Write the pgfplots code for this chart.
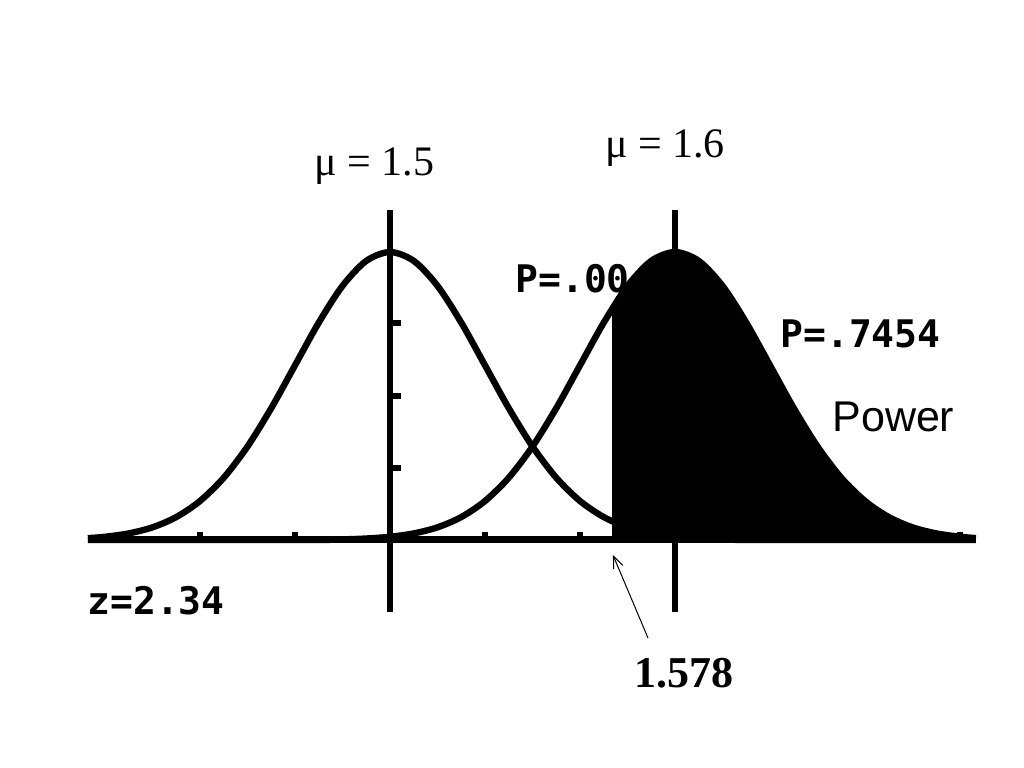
\documentclass[border=0pt]{standalone}
\usepackage{fontspec}
\setmainfont{Liberation Serif}
\newfontfamily\arialfont{Liberation Sans}
\newfontfamily\calcfont{DejaVu Sans Mono}
\usepackage{pgfplots}
\pgfplotsset{compat=1.18}
\usetikzlibrary{arrows.meta}

% density of the sampling distribution (sigma = 1/30)
\pgfplotstableread{
x        y
1.394    0.076
1.4      0.133
1.408333 0.273
1.416667 0.526
1.425    0.952
1.433333 1.620
1.441667 2.588
1.45     3.885
1.458333 5.479
1.466667 7.259
1.475    9.034
1.483333 10.562
1.491667 11.600
1.5      11.968
1.508333 11.600
1.516667 10.562
1.525    9.034
1.533333 7.259
1.541667 5.479
1.55     3.885
1.558333 2.588
1.566667 1.620
1.575    0.952
1.583333 0.526
1.591667 0.273
1.6      0.133
1.608333 0.061
1.616667 0.026
1.63     0.0
1.7056   0.0
}\nullcurve
\pgfplotstableread{
x        y
1.394    0.0
1.47     0.0
1.483333 0.026
1.491667 0.061
1.5      0.133
1.508333 0.273
1.516667 0.526
1.525    0.952
1.533333 1.620
1.541667 2.588
1.55     3.885
1.558333 5.479
1.566667 7.259
1.575    9.034
1.583333 10.562
1.591667 11.600
1.6      11.968
1.608333 11.600
1.616667 10.562
1.625    9.034
1.633333 7.259
1.641667 5.479
1.65     3.885
1.658333 2.588
1.666667 1.620
1.675    0.952
1.683333 0.526
1.691667 0.273
1.7      0.133
1.7056   0.08
}\altcurve
\pgfplotstableread{
x        y
1.578    9.626
1.583333 10.562
1.591667 11.600
1.6      11.968
1.608333 11.600
1.616667 10.562
1.625    9.034
1.633333 7.259
1.641667 5.479
1.65     3.885
1.658333 2.588
1.666667 1.620
1.675    0.952
1.683333 0.526
1.691667 0.273
1.7      0.133
1.7056   0.08
}\powerarea

\begin{document}
\begin{tikzpicture}
\begin{axis}[
    at={(0,0)}, anchor=south west,
    scale only axis,
    width=512pt, height=384pt,
    xmin=1.363158, xmax=1.722456,
    ymin=-9.476, ymax=22.444,
    hide axis, clip=false,
]
\path (rel axis cs:0,0) rectangle (rel axis cs:1,1);

% calculator readouts
\node[anchor=base west, inner sep=0pt, font=\calcfont\bfseries\fontsize{19}{22}\selectfont]
    at (rel axis cs:0.5029,0.6185) {P=.00};
\node[anchor=base west, inner sep=0pt, font=\calcfont\bfseries\fontsize{19}{22}\selectfont]
    at (rel axis cs:0.7617,0.5469) {P=.7454};
\node[anchor=base west, inner sep=0pt, font=\calcfont\bfseries\fontsize{19}{22}\selectfont]
    at (rel axis cs:0.0850,0.1992) {z=2.34};

% shaded power region
\addplot[fill=black, draw=none] table[x=x, y=y] {\powerarea} |- (axis cs:1.578,0) -- cycle;
\addplot[fill=black, draw=none] coordinates {(1.578,0) (1.578,9.626) (1.59,9.626) (1.59,0)};

% axes
\addplot[black, line width=3.5pt] coordinates {(1.3945,0) (1.7055,0)};
\addplot[black, line width=3.3pt] coordinates {(1.5,-2.99) (1.5,13.72)};
\addplot[black, line width=3.3pt] coordinates {(1.6,-2.99) (1.6,13.72)};
\foreach \t in {1.433333,1.466667,1.533333,1.566667,1.633333,1.666667,1.7}{
  \edef\temp{\noexpand\draw[line width=3pt] (axis cs:\t,0) -- (axis cs:\t,0.35);}\temp
}
\foreach \t in {3,6,9}{
  \edef\temp{\noexpand\draw[line width=3pt] (axis cs:1.5,\t) -- (axis cs:1.5038,\t);}\temp
}

% the two curves
\addplot[black, line width=3.2pt, smooth] table[x=x, y=y] {\nullcurve};
\addplot[black, line width=3.2pt, smooth] table[x=x, y=y] {\altcurve};

% annotations
\node[anchor=base, inner sep=0pt, font=\fontsize{21}{25}\selectfont]
    at (rel axis cs:0.3657,0.7721) {μ = 1.5};
\node[anchor=base, inner sep=0pt, font=\fontsize{21}{25}\selectfont]
    at (rel axis cs:0.6494,0.7943) {μ = 1.6};
\node[anchor=base west, inner sep=0pt, font=\arialfont\fontsize{21.5}{25}\selectfont]
    at (rel axis cs:0.8125,0.4375) {Power};
\node[anchor=base, inner sep=0pt, font=\bfseries\fontsize{22}{26}\selectfont]
    at (rel axis cs:0.668,0.1042) {1.578};
\draw[line width=0.5pt, -{Straight Barb[length=6pt, width=5pt]}]
    (rel axis cs:0.6328,0.1693) -- (rel axis cs:0.5986,0.2773);
\end{axis}
\end{tikzpicture}
\end{document}
